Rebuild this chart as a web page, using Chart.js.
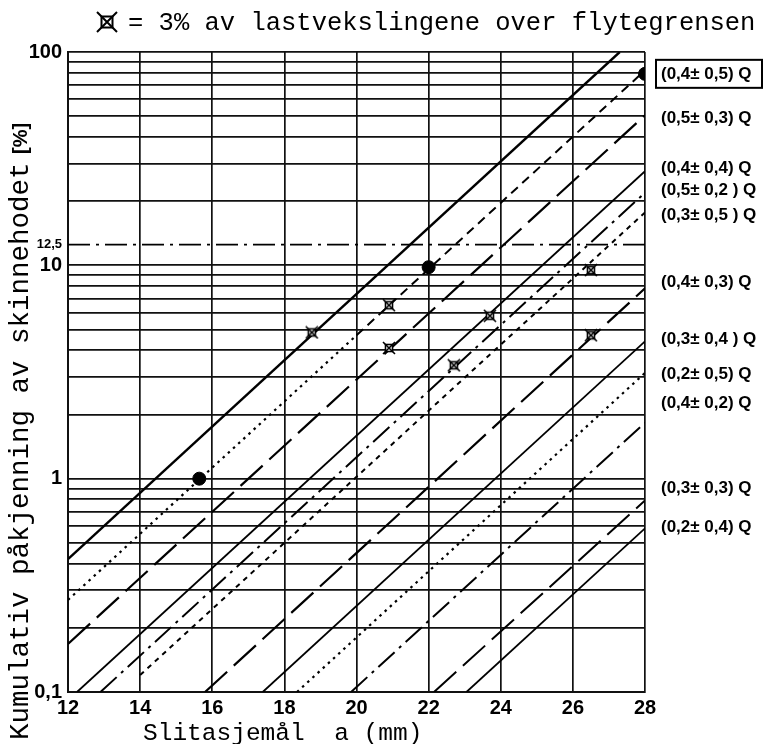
<!DOCTYPE html>
<html><head><meta charset="utf-8">
<script src="https://cdn.jsdelivr.net/npm/chart.js@4/dist/chart.umd.min.js"></script>
<style>html,body{margin:0;padding:0;background:#fff}#wrap{width:765px;height:744px}</style>
</head><body><div id="wrap"><canvas id="c" width="765" height="744"></canvas></div>
<script>
// ---- axis ticks ----
const xTicks = [12, 14, 16, 18, 20, 22, 24, 26, 28];
const yGridValues = [0.1,0.2,0.3,0.4,0.5,0.6,0.7,0.8,0.9,1,2,3,4,5,6,7,8,9,10,12.5,20,30,40,50,60,70,80,90,100];
const yLabelValues = [0.1, 1, 10, 12.5, 100];
const yLabelTexts = ['0,1', '1', '10', '12,5', '100'];

// ---- straight lines (start/end) ----
const lineA = [[12, 0.42], [27.3, 100]];            // solid, unlabeled (leaves through top)
const lineB1 = [[12, 0.27], [20, 4.7]];             // (0,4±0,5)Q lower part (dotted)
const lineB2 = [[20, 4.7], [28, 82]];               // (0,4±0,5)Q upper part (dashed)
const lineC = [[12, 0.168], [28, 50.5]];            // (0,5±0,3)Q
const lineD = [[12.25, 0.1], [28, 27.6]];           // (0,4±0,4)Q
const lineE = [[12.9, 0.1], [28, 21.9]];            // (0,5±0,2)Q
const lineF = [[14, 0.12], [28, 17.7]];             // (0,3±0,5)Q
const lineG = [[15.8, 0.1], [28, 7.8]];             // (0,4±0,3)Q
const lineH = [[17.4, 0.1], [28, 4.4]];             // (0,3±0,4)Q
const lineI = [[18.35, 0.1], [28, 3.13]];           // (0,2±0,5)Q
const lineJ = [[19.85, 0.1], [28, 1.83]];           // (0,4±0,2)Q
const lineK = [[22.15, 0.1], [28, 0.79]];           // (0,3±0,3)Q
const lineL = [[23.05, 0.1], [28, 0.585]];          // (0,2±0,4)Q
const limitLine = [[12, 12.5], [28, 12.5]];         // 12,5 % dash-dot level

// ---- markers ----
const crossX = [18.76, 20.9, 20.9, 22.7, 23.7, 26.5, 26.5];
const crossY = [4.85, 6.5, 4.1, 3.4, 5.8, 9.5, 4.7];
const dotX = [15.64, 22, 28];
const dotY = [1, 9.8, 79];

// ---- right-hand labels ----
const rightLabels = ['(0,4± 0,5) Q','(0,5± 0,3) Q','(0,4± 0,4) Q','(0,5± 0,2 ) Q','(0,3± 0,5 ) Q','(0,4± 0,3) Q','(0,3± 0,4 ) Q','(0,2± 0,5) Q','(0,4± 0,2) Q','(0,3± 0,3) Q','(0,2± 0,4) Q'];
const rightLabelValues = [79, 49, 28.5, 22.4, 17.1, 8.3, 4.5, 3.1, 2.25, 0.9, 0.59];

const titleText = '= 3% av lastvekslingene over flytegrensen';
const yTitleText = 'Kumulativ påkjenning av skinnehodet ';
const yTitleUnit = '[%]';
const xTitleText = 'Slitasjemål  a (mm)';

// marker image
function makeMarker(s, lw){
  const c = document.createElement('canvas'); c.width = s; c.height = s;
  const g = c.getContext('2d');
  g.strokeStyle = '#000'; g.lineWidth = lw; g.fillStyle = '#fff';
  const a = s*0.25, b = s*0.75;
  g.fillRect(a,a,b-a,b-a); g.strokeRect(a,a,b-a,b-a);
  g.beginPath(); g.moveTo(1,1); g.lineTo(s-1,s-1); g.moveTo(s-1,1); g.lineTo(1,s-1); g.stroke();
  return c;
}
const markerImg = makeMarker(14, 1.6);
const titleMarker = makeMarker(22, 2);

const pts = arr => arr.map(p => ({x: p[0], y: p[1]}));
const solid = [], dot = [2.5, 4.5], shortDash = [5, 5], dash = [9, 6], longDash = [30, 9], dashDot = [22, 6, 3, 6];
function lineDs(data, d, w){
  return {type:'line', data: pts(data), borderColor:'#000', borderWidth: w || 1.8, borderDash: d, pointRadius: 0, fill:false, tension:0, showLine:true};
}

const textPlugin = {
  id: 'texts',
  afterDraw(chart){
    const ctx = chart.ctx, ys = chart.scales.y;
    ctx.save();
    ctx.fillStyle = '#000';
    // title
    ctx.drawImage(titleMarker, 96, 11);
    ctx.font = "25.5px 'Liberation Mono'";
    ctx.textBaseline = 'middle'; ctx.textAlign = 'left';
    ctx.fillText(titleText, 128, 23);
    // x title
    ctx.font = "24.5px 'Liberation Mono'";
    ctx.fillText(xTitleText, 143, 734);
    // y title
    ctx.save();
    ctx.translate(21, 740); ctx.rotate(-Math.PI/2);
    ctx.font = "27.5px 'Liberation Mono'";
    ctx.fillText(yTitleText, 0, 0);
    const w = ctx.measureText(yTitleText).width;
    ctx.font = "bold 20px 'Liberation Sans'";
    ctx.fillText(yTitleUnit, w - 8, 0);
    ctx.restore();
    // right labels
    ctx.font = "bold 17px 'Liberation Sans'";
    rightLabels.forEach((t, i) => {
      const y = ys.getPixelForValue(rightLabelValues[i]);
      ctx.fillText(t, 661, y);
      if (i === 0){ ctx.lineWidth = 2; ctx.strokeStyle = '#000'; ctx.strokeRect(656, y - 14, 106, 28); }
    });
    ctx.restore();
  }
};

new Chart(document.getElementById('c'), {
  type: 'scatter',
  data: { datasets: [
    {data: dotX.map((x,i)=>({x, y: dotY[i]})), pointRadius: 6.5, backgroundColor:'#000', borderColor:'#000', showLine:false},
    {data: crossX.map((x,i)=>({x, y: crossY[i]})), pointStyle: markerImg, showLine:false},
    lineDs(lineA, solid, 2.4),
    lineDs(lineB1, dot, 2.2),
    lineDs(lineB2, dash, 2),
    lineDs(lineC, longDash, 2.2),
    lineDs(lineD, solid, 1.8),
    lineDs(lineE, dashDot, 2),
    lineDs(lineF, shortDash, 2),
    lineDs(lineG, longDash, 2.2),
    lineDs(lineH, solid, 1.8),
    lineDs(lineI, dot, 2.2),
    lineDs(lineJ, dashDot, 2),
    lineDs(lineK, longDash, 2),
    lineDs(lineL, solid, 1.8),
    lineDs(limitLine, dashDot, 1.6)
  ]},
  options: {
    responsive: false, animation: false, devicePixelRatio: 1,
    layout: { padding: {top: 52, right: 120, left: 0, bottom: 0} },
    plugins: { legend: {display:false}, tooltip: {enabled:false}, title:{display:false} },
    scales: {
      x: {
        type: 'linear', min: 12, max: 28,
        afterBuildTicks: s => { s.ticks = xTicks.map(v => ({value: v})); },
        afterFit: s => { s.height = 52; },
        ticks: { color:'#000', font: {family:"'Liberation Sans'", size: 20, weight:'bold'}, padding: 4, autoSkip:false, maxRotation:0 },
        grid: { color:'#111', lineWidth: 1.7, drawTicks:false },
        border: { color:'#111', width: 2 }
      },
      y: {
        type: 'logarithmic', min: 0.1, max: 100,
        afterBuildTicks: s => { s.ticks = yGridValues.map(v => ({value: v})); },
        afterFit: s => { s.width = 68; },
        ticks: {
          color:'#000', autoSkip:false, padding: 6,
          font: c => (c.tick && c.tick.value === 12.5) ? {family:"'Liberation Sans'", size: 13, weight:'bold'} : {family:"'Liberation Sans'", size: 20, weight:'bold'},
          callback: v => { const i = yLabelValues.indexOf(v); return i >= 0 ? yLabelTexts[i] : ''; }
        },
        grid: { color: c => (c.tick && c.tick.value === 12.5) ? 'rgba(0,0,0,0)' : '#111', lineWidth: 1.7, drawTicks:false },
        border: { color:'#111', width: 2 }
      }
    }
  },
  plugins: [textPlugin]
});
</script>
</body></html>
